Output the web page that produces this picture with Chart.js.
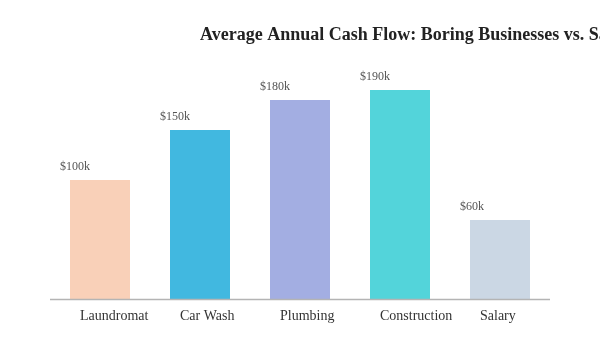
<!DOCTYPE html>
<html>
<head>
<meta charset="utf-8">
<script src="https://cdn.jsdelivr.net/npm/chart.js@4"></script>
<style>
html,body{margin:0;padding:0;background:#fff;}
#wrap{width:600px;height:350px;}
</style>
</head>
<body>
<div id="wrap"><canvas id="c" width="600" height="350"></canvas></div>
<script>
const titleText = "Average Annual Cash Flow: Boring Businesses vs. Salary";
const categories = ["Laundromat", "Car Wash", "Plumbing", "Construction", "Salary"];
const values = [100, 150, 180, 190, 60];
const valueLabels = ["$100k", "$150k", "$180k", "$190k", "$60k"];
const colors = ["#f9d0b8", "#41b8e0", "#a3aee2", "#53d4da", "#cbd7e4"];

const labelPlugin = {
  id: "customLabels",
  afterDatasetsDraw(chart) {
    const ctx = chart.ctx;
    const xs = chart.scales.x;
    const ys = chart.scales.y;
    const area = chart.chartArea;
    ctx.save();
    // axis line
    ctx.strokeStyle = "#b4b4b4";
    ctx.lineWidth = 1.5;
    ctx.beginPath();
    ctx.moveTo(area.left, area.bottom - 0.5);
    ctx.lineTo(area.right, area.bottom - 0.5);
    ctx.stroke();
    // title
    ctx.fillStyle = "#222";
    ctx.font = "bold 18px 'Liberation Serif', 'Times New Roman', serif";
    ctx.textAlign = "left";
    ctx.textBaseline = "alphabetic";
    ctx.fillText(titleText, 200, 40);
    const meta = chart.getDatasetMeta(0);
    meta.data.forEach((bar, i) => {
      const left = bar.x - bar.width / 2;
      ctx.fillStyle = "#555";
      ctx.font = "12px 'Liberation Serif', 'Times New Roman', serif";
      ctx.fillText(valueLabels[i], left - 10, bar.y - 10);
      ctx.fillStyle = "#333";
      ctx.font = "14px 'Liberation Serif', 'Times New Roman', serif";
      ctx.fillText(categories[i], left + 10, area.bottom + 20);
    });
    ctx.restore();
  }
};

new Chart(document.getElementById("c"), {
  type: "bar",
  data: {
    labels: categories,
    datasets: [{
      data: values,
      backgroundColor: colors,
      borderWidth: 0,
      base: -20,
      barPercentage: 0.6,
      categoryPercentage: 1.0
    }]
  },
  options: {
    responsive: false,
    animation: false,
    devicePixelRatio: 1,
    layout: { padding: { top: 50, bottom: 50, left: 50, right: 50 } },
    plugins: { legend: { display: false }, tooltip: { enabled: false }, title: { display: false } },
    scales: {
      x: { display: false },
      y: { display: false, min: -20, max: 230 }
    }
  },
  plugins: [labelPlugin]
});
</script>
</body>
</html>
